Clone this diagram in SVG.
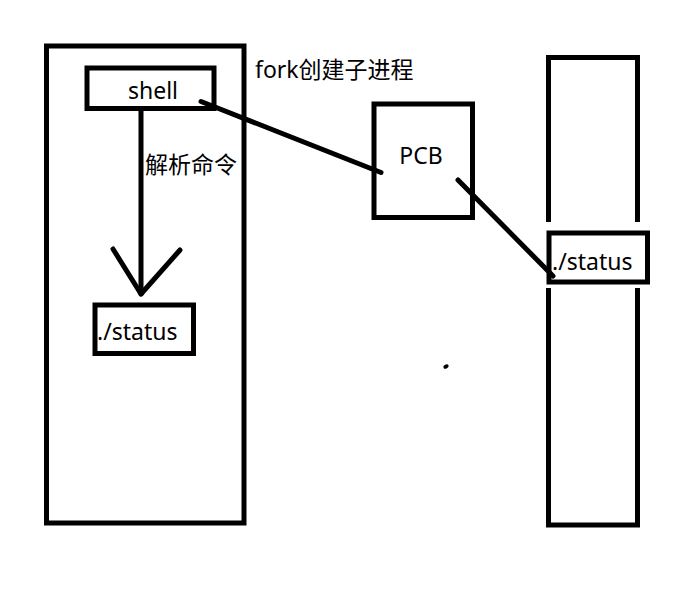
<svg xmlns="http://www.w3.org/2000/svg" width="680" height="600" viewBox="0 0 680 600">
<style>
.box{fill:none;stroke:#000;stroke-width:5}
.lbl{font-family:"Noto Sans","Noto Sans CJK SC",sans-serif;font-size:23px;fill:#000}
.ln{stroke:#000;stroke-width:5;fill:none;stroke-linecap:round;stroke-linejoin:round}
</style>
<rect width="680" height="600" fill="#fff"/>
<g id="left-process">
<rect class="box" x="46.5" y="46" width="197.5" height="477"/>
</g>
<g id="shell">
<rect class="box" x="87" y="68" width="127" height="40.5" fill="#fff"/>
<text class="lbl" x="153" y="99" text-anchor="middle">shell</text>
</g>
<g id="status-left">
<rect class="box" x="95" y="305" width="98.5" height="48.5"/>
<text class="lbl" x="97" y="339.5">./status</text>
</g>
<g id="pcb">
<rect class="box" x="374" y="104" width="98.5" height="113.5"/>
<text class="lbl" x="421" y="164" text-anchor="middle">PCB</text>
</g>
<g id="right-process">
<path class="box" stroke-linecap="butt" d="M548.5 222 V57.5 H637.5 V222 M548.5 288 V525 H637.5 V288"/>
</g>
<g id="status-right">
<rect class="box" x="549" y="233" width="98.5" height="49"/>
<text class="lbl" x="552" y="270">./status</text>
</g>
<g id="labels">
<text class="lbl" x="255" y="78">fork创建子进程</text>
<text class="lbl" x="145" y="173">解析命令</text>
</g>
<g id="connectors">
<line class="ln" x1="141" y1="109" x2="141" y2="294"/>
<polyline class="ln" points="113,249 141,294 180,250"/>
<line class="ln" x1="201" y1="101.5" x2="381" y2="172.5"/>
<line class="ln" stroke-width="4.5" x1="458" y1="180" x2="553" y2="276"/>
</g>
<ellipse cx="446" cy="366.5" rx="2.8" ry="2" transform="rotate(-30 446 366.5)" fill="#000"/>
</svg>
